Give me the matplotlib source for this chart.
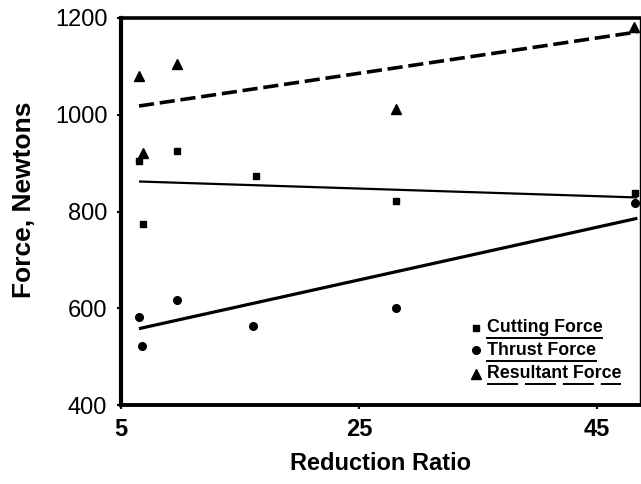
import matplotlib
matplotlib.use("Agg")
import matplotlib.pyplot as plt
from matplotlib.lines import Line2D

# Measured forces vs reduction ratio
cut_x = [6.5, 6.85, 9.7, 16.3, 28.1, 48.2]
cut_y = [904, 775, 924, 873, 822, 839]

thrust_x = [6.5, 6.75, 9.7, 16.1, 28.1, 48.2]
thrust_y = [582, 522, 618, 564, 600, 817]

result_x = [6.5, 6.85, 9.7, 28.1, 48.1]
result_y = [1080, 920, 1105, 1011, 1181]

# Trend lines (end points)
trend_x = [6.5, 48.4]
cut_trend = [862, 829]
thrust_trend = [558, 786]
result_trend = [1018, 1171]

x_ticks = [5, 25, 45]
y_ticks = [400, 600, 800, 1000, 1200]

plt.rcParams['font.family'] = ['Liberation Sans', 'DejaVu Sans']

fig = plt.figure(figsize=(6.41, 4.84), dpi=100)
ax = fig.add_axes([0.189, 0.163, 0.809, 0.800])

ax.plot(trend_x, cut_trend, color='black', lw=1.6, solid_capstyle='butt')
ax.plot(trend_x, thrust_trend, color='black', lw=2.3, solid_capstyle='butt')
ax.plot(trend_x, result_trend, color='black', lw=2.6, dashes=(4.2, 1.6))

ax.plot(cut_x, cut_y, 's', color='black', ms=4.5, ls='none')
ax.plot(thrust_x, thrust_y, 'o', color='black', ms=5.5, ls='none')
ax.plot(result_x, result_y, '^', color='black', ms=6.5, ls='none')

ax.set_xlim(5, 48.6)
ax.set_ylim(400, 1200)
ax.set_xticks(x_ticks)
ax.set_yticks(y_ticks)
ax.set_xticklabels([str(v) for v in x_ticks], fontsize=17, fontweight='bold')
ax.set_yticklabels([str(v) for v in y_ticks], fontsize=17)
ax.tick_params(axis='both', direction='out', length=3, width=1.5, pad=6)
ax.tick_params(axis='y', pad=7)

for side, w in [('left', 3.0), ('bottom', 2.8), ('top', 2.6), ('right', 1.0)]:
    ax.spines[side].set_linewidth(w)

ax.set_xlabel('Reduction Ratio', fontsize=17, fontweight='bold', labelpad=8)
ax.set_ylabel('Force, Newtons', fontsize=19, fontweight='bold')
ax.yaxis.set_label_coords(-0.165, 0.53)

# Legend with underlined entries
entries = [('s', 4.5, 'Cutting Force', 'solid'),
           ('o', 5.5, 'Thrust Force', 'solid'),
           ('^', 6.5, 'Resultant Force', 'dashed')]
mx = 0.684
tx = 0.705
ys = [0.200, 0.142, 0.081]
texts = []
for (m, ms, label, style), yy in zip(entries, ys):
    ax.plot([mx], [yy], m, color='black', ms=ms, transform=ax.transAxes, clip_on=False)
    t = ax.text(tx, yy, label, transform=ax.transAxes, fontsize=12.8, fontweight='bold',
                va='center', ha='left')
    texts.append((t, style))

fig.canvas.draw()
renderer = fig.canvas.get_renderer()
inv = ax.transAxes.inverted()
for t, style in texts:
    bb = t.get_window_extent(renderer)
    (x0, y0), (x1, y1) = inv.transform([[bb.x0, bb.y0], [bb.x1, bb.y1]])
    uy = y0 - 0.005
    if style == 'solid':
        ax.add_line(Line2D([x0, x1], [uy, uy], transform=ax.transAxes, color='black', lw=1.4))
    else:
        ax.add_line(Line2D([x0, x1], [uy, uy], transform=ax.transAxes, color='black', lw=1.4,
                           dashes=(16, 3.5)))

fig.savefig('out.png', dpi=100)
